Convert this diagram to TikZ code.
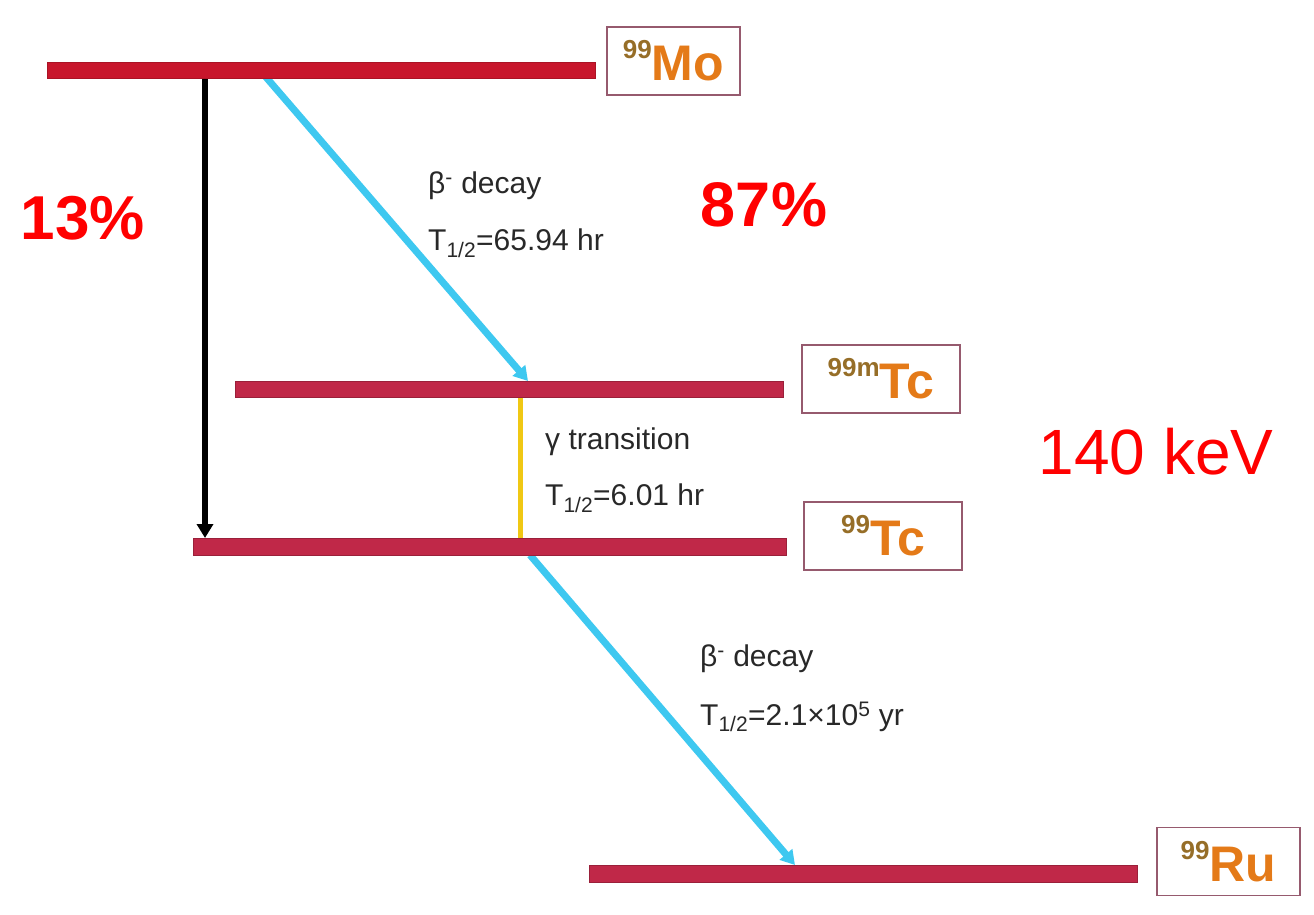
\documentclass[tikz,border=0pt]{standalone}
\usepackage{fontspec}
\setmainfont{Liberation Sans}
\usetikzlibrary{arrows.meta}
\definecolor{barc}{RGB}{192,40,72}
\definecolor{barmo}{RGB}{200,22,44}
\definecolor{cyanc}{RGB}{62,200,240}
\definecolor{yelc}{RGB}{240,200,20}
\definecolor{boxc}{RGB}{150,90,110}
\definecolor{isoc}{RGB}{228,122,24}
\definecolor{supc}{RGB}{150,110,40}
\definecolor{txtc}{RGB}{40,40,40}
\newcommand{\iso}[2]{\textcolor{supc}{\bfseries\fontsize{26}{26}\selectfont\raisebox{22pt}{#1}}\textcolor{isoc}{\bfseries\fontsize{50}{50}\selectfont #2}}
\begin{document}
\begin{tikzpicture}[x=1pt,y=-1pt,
  bar/.style={fill=barc,draw=barc!80!black,line width=0.8pt,inner sep=0pt,minimum height=16pt},
  isobox/.style={draw=boxc,line width=1.6pt,inner sep=0pt,minimum height=68pt},
  lbl/.style={anchor=west,text=txtc,font=\fontsize{30}{32}\selectfont,inner sep=0pt},
  pct/.style={text=red,inner sep=0pt},
  arr/.style={line width=6pt,-{Triangle[length=14pt,width=16pt]}}
]
\useasboundingbox (0,0) rectangle (1314,915);
% arrows
\coordinate (k1) at (205,78);
\coordinate (k2) at (205,538);
\coordinate (c1) at (265,76);
\coordinate (c2) at (528,381);
\coordinate (y1) at (520,397);
\coordinate (y2) at (520,538);
\coordinate (d1) at (530,555);
\coordinate (d2) at (795,865);
\draw[arr,black] (k1) -- (k2);
\draw[arr,cyanc,line width=7pt] (c1) -- (c2);
\draw[line width=5pt,yelc] (y1) -- (y2);
\draw[arr,cyanc,line width=7pt] (d1) -- (d2);
% bars
\node[bar,fill=barmo,draw=barmo!85!black,minimum width=548pt] (mo) at (321,70) {};
\node[bar,minimum width=548pt] (mtc) at (509,389) {};
\node[bar,minimum width=593pt,minimum height=17pt] (tc) at (489.5,546.5) {};
\node[bar,minimum width=548pt,minimum height=17pt] (ru) at (863,873.5) {};
% isotope boxes
\node[isobox,minimum width=133pt] (bmo) at (673.5,61) {\iso{99}{Mo}};
\node[isobox,minimum width=158pt] (bmtc) at (881,379) {\iso{99m}{Tc}};
\node[isobox,minimum width=158pt] (btc) at (883,536) {\iso{99}{Tc}};
\node[isobox,minimum width=143pt] (bru) at (1228.5,861.5) {\iso{99}{Ru}};
% labels
\node[lbl] (l1) at (428,186) {β\textsuperscript{-} decay};
\node[lbl] (l2) at (428,243) {T\textsubscript{1/2}=65.94 hr};
\node[lbl] (l3) at (545,442) {γ transition};
\node[lbl] (l4) at (545,498) {T\textsubscript{1/2}=6.01 hr};
\node[lbl] (l5) at (700,659) {β\textsuperscript{-} decay};
\node[lbl] (l6) at (700,717) {T\textsubscript{1/2}=2.1×10\textsuperscript{5} yr};
% percentages
\node[pct,font=\bfseries\fontsize{62}{62}\selectfont] (p13) at (83,218) {13\%};
\node[pct,font=\bfseries\fontsize{63}{63}\selectfont] (p87) at (764,205) {87\%};
\node[pct,font=\fontsize{64}{64}\selectfont] (kev) at (1156,452) {140 keV};
\end{tikzpicture}
\end{document}
